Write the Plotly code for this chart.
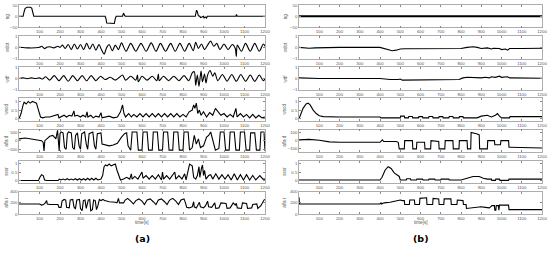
import plotly.graph_objects as go

# ---------------- DATA ----------------
ylabels = ["ng", "wdot", "wdf", "wsod", "alfa d", "ssor", "alfa r"]
xtick_vals = [100, 200, 300, 400, 500, 600, 700, 800, 900, 1000, 1100, 1200]

# panel (a)
ng_a_t = [0,20,25,30,40,55,62,68,72,420,424,428,465,470,474,505,510,514,518,860,863,866,870,875,882,885,890,900,903,908,915,918,1058,1061,1064,1200]
ng_a_v = [0,0,20,35,40,40,36,20,0,0,-10,-30,-32,-10,0,0,14,6,0,0,15,27,20,2,0,-6,-4,0,-9,-3,-8,0,0,8,0,0]

wdot_a_t = [0,20,50,80,100,110,118,125,135,150,170,190,200,212,225,240,255,270,285,300,315,330,345,360,375,390,402,415,428,440,455,470,485,500,522,545,570,595,620,645,668,690,715,740,762,785,808,830,850,862,875,890,905,920,935,950,965,980,1000,1020,1040,1055,1060,1065,1085,1105,1128,1150,1172,1192,1200]
wdot_a_v = [0,-0.02,-0.05,-0.04,0.0,0.1,0.0,-0.12,0.0,0.05,-0.05,0.1,0.0,0.2,-0.1,0.25,-0.2,0.3,-0.15,0.25,-0.2,0.35,-0.15,0.3,-0.25,0.25,-0.2,-0.6,0.0,0.25,-0.3,0.2,-0.2,0.4,-0.35,0.35,-0.35,0.35,-0.35,0.4,-0.35,0.35,-0.35,0.35,-0.35,0.35,-0.35,0.35,-0.3,0.45,-0.1,0.3,-0.2,0.2,0.55,0.1,0.35,-0.2,0.3,-0.2,0.25,-0.1,-0.8,0.2,-0.35,0.35,-0.35,0.35,-0.35,0.3,0.1]

wdf_a_t = [0,20,40,60,80,100,115,130,150,172,195,218,240,262,285,308,330,352,375,398,420,445,470,490,505,520,545,570,578,582,600,625,650,672,680,684,705,730,755,780,805,828,845,855,862,870,878,888,895,905,912,920,932,945,955,970,992,1015,1038,1060,1082,1105,1128,1150,1172,1192,1200]
wdf_a_v = [0,0.05,-0.03,0.05,0.0,0.05,-0.05,0.15,-0.15,0.25,-0.2,0.25,-0.25,0.25,-0.2,0.25,-0.2,0.25,-0.2,0.2,-0.1,0.1,-0.15,0.1,0.3,-0.15,0.2,-0.15,0.3,-0.3,0.2,-0.15,0.2,-0.2,0.4,-0.2,0.2,-0.2,0.2,-0.2,0.25,-0.2,0.5,0.6,-0.6,0.3,-0.7,0.65,-0.3,0.4,-0.4,0.3,0.7,0.2,0.5,-0.2,0.35,-0.25,0.35,-0.25,0.35,-0.25,0.3,-0.25,0.3,-0.2,0.0]

wsod_a_t = [0,10,20,25,35,45,55,65,75,85,95,105,115,130,150,165,180,190,195,205,220,232,245,258,268,272,285,300,312,325,332,336,350,362,375,390,400,405,420,440,460,480,495,505,512,520,535,548,560,575,590,605,620,635,650,665,680,695,710,725,740,755,770,785,800,815,830,845,852,858,865,872,880,888,900,915,930,945,958,970,985,1000,1015,1030,1045,1058,1064,1080,1095,1110,1125,1140,1155,1170,1185,1200]
wsod_a_v = [0.0,0.3,0.8,0.95,0.85,1.0,0.9,1.0,0.95,0.9,0.5,0.1,0.05,0.1,0.1,0.15,0.2,0.25,0.05,0.1,0.2,0.1,0.2,0.15,0.45,0.15,0.2,0.1,0.2,0.1,0.4,0.1,0.2,0.05,0.15,0.1,0.35,0.05,0.1,0.15,0.05,0.1,0.4,0.8,0.3,0.1,0.3,0.1,0.25,0.1,0.3,0.1,0.3,0.1,0.3,0.1,0.3,0.1,0.3,0.1,0.3,0.1,0.3,0.1,0.25,0.1,0.4,0.5,0.8,0.6,0.9,0.3,0.5,0.2,0.4,0.1,0.35,0.2,0.6,0.4,0.2,0.3,0.1,0.25,0.1,0.6,0.1,0.3,0.1,0.25,0.05,0.25,0.05,0.2,0.05,0.1]

alfad_a_t = [0,30,60,90,110,118,122,126,135,150,165,180,188,192,196,200,205,215,222,230,236,242,255,262,270,276,285,293,300,306,320,328,335,342,360,368,375,382,400,405,420,440,460,480,500,515,525,532,545,552,575,582,600,605,625,632,650,655,675,682,700,705,725,732,750,755,775,782,800,805,825,832,845,855,865,875,885,900,915,925,935,950,958,975,982,1000,1008,1025,1030,1050,1058,1075,1080,1100,1108,1125,1130,1150,1158,1175,1180,1195,1200]
alfad_a_v = [100,150,100,50,0,-100,-600,0,100,250,300,100,600,-100,-600,400,500,450,-400,-500,400,500,450,-400,-500,300,450,-300,-500,400,500,-200,-500,400,500,-300,-500,400,450,-200,-250,-300,-250,-150,200,400,450,-300,-550,500,500,-550,-550,500,500,-550,-550,500,500,-550,-550,500,500,-550,-550,500,500,-550,-550,500,500,-550,-400,300,-200,100,-400,-300,200,300,500,-200,-550,-450,500,500,-550,-550,500,500,-550,-550,500,500,-550,-550,450,450,-550,-550,500,500,-600]

ssor_a_t = [0,95,102,110,118,125,135,190,198,205,215,225,235,245,255,265,275,285,295,305,315,325,335,345,355,365,375,385,400,408,415,422,430,440,450,460,470,478,488,495,510,525,540,548,552,565,580,590,600,605,620,635,650,665,680,695,700,705,720,735,750,760,765,780,795,808,815,825,832,845,852,862,870,878,882,890,895,900,905,912,925,935,945,960,975,990,1005,1020,1035,1050,1065,1080,1095,1110,1125,1140,1155,1175,1190,1200]
ssor_a_v = [0.02,0.02,0.2,0.35,0.3,0.05,0.02,0.02,0.1,0.05,0.1,0.05,0.12,0.05,0.1,0.05,0.12,0.05,0.12,0.05,0.12,0.05,0.15,0.05,0.15,0.05,0.15,0.05,0.1,0.3,0.8,0.9,0.85,0.95,0.85,0.9,0.95,0.6,0.2,0.05,0.1,0.2,0.1,0.4,0.1,0.25,0.1,0.3,0.5,0.15,0.3,0.1,0.3,0.1,0.35,0.05,0.5,0.1,0.3,0.1,0.35,0.5,0.1,0.3,0.1,0.4,0.05,0.5,0.95,0.85,0.2,0.1,0.3,0.8,0.2,0.7,0.9,0.3,0.6,0.1,0.3,0.35,0.1,0.4,0.1,0.35,0.1,0.35,0.05,0.4,0.05,0.35,0.05,0.35,0.05,0.3,0.05,0.3,0.1,0.1]

alfar_a_t = [0,100,110,120,128,135,138,150,190,195,205,210,220,228,232,245,250,262,268,275,282,295,300,308,314,322,328,338,345,350,358,364,372,378,385,392,400,410,418,440,470,478,485,490,500,510,518,530,545,558,570,585,600,612,625,640,655,668,680,695,710,722,735,750,765,778,790,805,812,818,830,845,852,855,865,875,880,885,900,910,920,925,940,955,960,975,985,1010,1015,1030,1045,1055,1060,1065,1085,1090,1110,1115,1135,1140,1160,1165,1180,1195,1200]
alfar_a_v = [180,180,160,170,200,240,180,170,170,120,120,230,260,250,120,110,250,260,130,90,250,260,100,60,240,250,100,250,260,60,80,250,240,80,150,260,240,260,240,220,210,200,280,200,200,200,250,280,230,180,240,270,230,170,250,270,220,170,250,270,220,170,250,280,230,170,250,270,200,120,110,130,220,130,110,200,210,130,110,150,230,130,120,200,100,110,200,190,100,110,200,160,190,110,100,200,190,100,110,170,180,100,150,250,260]

# panel (b)
ng_b_t = [0, 1200]
ng_b_v = [0, 0]

wdot_b_t = [0,20,50,80,120,200,400,420,440,460,480,500,520,600,700,800,830,860,880,900,930,950,960,990,1000,1020,1030,1040,1100,1200]
wdot_b_v = [0,-0.03,-0.08,-0.05,-0.02,0.0,0.0,-0.1,-0.25,-0.3,-0.25,-0.15,-0.13,-0.12,-0.12,-0.1,0.0,0.05,0.0,-0.1,-0.05,-0.15,-0.08,-0.1,-0.2,-0.15,-0.25,-0.1,-0.1,-0.08]

wdf_b_t = [0,50,100,400,420,450,490,500,510,600,700,790,810,830,900,920,940,950,970,990,1000,1030,1040,1200]
wdf_b_v = [0.05,0.02,0.0,0.0,-0.05,-0.1,-0.1,-0.05,-0.15,-0.15,-0.15,-0.1,0.05,0.1,0.05,0.1,0.05,0.15,0.1,0.2,0.1,0.15,0.05,0.02]

wsod_b_t = [0,10,20,35,45,55,70,85,100,120,200,400,405,500,502,520,522,540,542,560,562,590,592,610,612,640,642,660,662,690,692,710,712,740,742,760,762,790,792,810,812,880,900,930,950,970,980,990,1000,1040,1042,1200]
wsod_b_v = [0.0,0.3,0.6,0.85,0.9,0.8,0.5,0.3,0.17,0.12,0.1,0.1,0.05,0.05,0.15,0.15,0.05,0.05,0.13,0.13,0.05,0.05,0.12,0.12,0.05,0.05,0.13,0.13,0.05,0.05,0.12,0.12,0.05,0.05,0.13,0.13,0.05,0.05,0.12,0.12,0.05,0.05,0.15,0.2,0.1,0.2,0.3,0.15,0.05,0.05,0.12,0.12]

alfad_b_t = [0,50,100,150,200,400,408,412,418,480,490,495,520,522,560,562,580,582,620,622,650,652,690,692,720,722,760,762,790,792,830,832,848,850,880,890,892,930,932,965,967,995,997,1035,1037,1100,1200]
alfad_b_v = [10,15,5,-15,-20,-20,0,10,-10,-10,-20,-100,-100,0,0,-100,-100,-20,-20,-100,-100,0,-10,-100,-100,0,0,-100,-100,0,0,-100,-100,100,80,70,-100,-100,0,0,-50,-50,0,0,-80,-85,-90]

ssor_b_t = [0,400,410,425,440,455,470,485,495,500,530,532,550,552,580,582,610,612,640,642,670,672,700,702,740,742,800,830,860,890,910,930,950,952,970,972,990,992,1035,1037,1200]
ssor_b_v = [0.05,0.05,0.2,0.6,0.8,0.7,0.45,0.35,0.25,0.05,0.05,0.12,0.12,0.05,0.05,0.1,0.1,0.05,0.05,0.1,0.1,0.05,0.05,0.1,0.1,0.05,0.05,0.15,0.25,0.25,0.15,0.1,0.1,0.03,0.03,0.1,0.1,0.03,0.03,0.1,0.1]

alfar_b_t = [0,2,400,405,408,420,450,480,500,510,520,522,545,547,570,572,595,597,630,632,660,662,690,692,715,717,750,752,780,782,810,812,825,827,870,900,920,940,950,952,965,967,972,974,985,987,990,1035,1037,1200]
alfar_b_v = [300,180,180,200,180,200,210,230,250,240,240,170,170,250,250,170,170,280,290,170,170,280,270,170,170,270,270,170,170,250,240,170,170,100,110,130,120,110,140,150,150,70,70,150,150,70,160,160,80,80]

# y ranges and ticks per row
yranges_a = [[-50, 50], [-1, 1], [-1, 1], [-0.12, 1.18], [-650, 650], [-0.12, 1.15], [0, 400]]
yranges_b = [[-50, 50], [-1, 1], [-1, 1], [-0.12, 1.18], [-137, 137], [-0.12, 1.15], [0, 400]]
yticks_a = [[-50, 0, 50], [-1, 0, 1], [-1, 0, 1], [0, 0.5, 1], [-500, 0, 500], [0, 0.5, 1], [0, 200, 400]]
yticks_b = [[-50, 0, 50], [-1, 0, 1], [-1, 0, 1], [0, 0.5, 1], [-100, 0, 100], [0, 0.5, 1], [0, 200, 400]]

series_a = [(ng_a_t, ng_a_v), (wdot_a_t, wdot_a_v), (wdf_a_t, wdf_a_v), (wsod_a_t, wsod_a_v),
            (alfad_a_t, alfad_a_v), (ssor_a_t, ssor_a_v), (alfar_a_t, alfar_a_v)]
series_b = [(ng_b_t, ng_b_v), (wdot_b_t, wdot_b_v), (wdf_b_t, wdf_b_v), (wsod_b_t, wsod_b_v),
            (alfad_b_t, alfad_b_v), (ssor_b_t, ssor_b_v), (alfar_b_t, alfar_b_v)]
smooth_rows = {1, 2}   # oscillating signals drawn as smooth curves

# ---------------- FIGURE ----------------
W, H = 550, 253
fig = go.Figure()
layout = dict(width=W, height=H, margin=dict(l=0, r=0, t=0, b=0, autoexpand=False),
              paper_bgcolor="white", plot_bgcolor="white", showlegend=False,
              font=dict(family="Liberation Sans", size=4.5, color="#555555"))
annotations = []

panels = [((19, 265), series_a, yranges_a, yticks_a, 7, "(a)"),
          ((299, 542), series_b, yranges_b, yticks_b, 285, "(b)")]

TICKFONT = dict(family="Liberation Sans", size=4.3, color="#555555")
k = 0
for p, (xpx, series, yr, yt, ylab_x, plabel) in enumerate(panels):
    for i in range(7):
        k += 1
        top = 5 + 31.1 * i
        bot = top + 22.5
        xs = "" if k == 1 else str(k)
        t, v = series[i]
        lw = 1.8 if (p == 1 and i == 0) else 1.1
        line = dict(color="black", width=lw)
        if p == 0 and i in smooth_rows:
            line.update(shape="spline", smoothing=0.8)
        fig.add_trace(go.Scatter(x=t, y=v, mode="lines", line=line,
                                 xaxis="x" + xs, yaxis="y" + xs, hoverinfo="skip"))
        layout["xaxis" + xs] = dict(domain=[xpx[0] / W, xpx[1] / W], anchor="y" + xs,
                                    range=[0, 1200], tickvals=xtick_vals, ticks="inside",
                                    ticklen=2, tickcolor="#888888", showline=True,
                                    linecolor="#999999", linewidth=0.8, mirror="ticks",
                                    showgrid=False, zeroline=False, tickfont=TICKFONT,
                                    automargin=False)
        layout["yaxis" + xs] = dict(domain=[1 - bot / H, 1 - top / H], anchor="x" + xs,
                                    range=yr[i], tickvals=yt[i], ticks="inside",
                                    ticklen=2, tickcolor="#888888", showline=True,
                                    linecolor="#999999", linewidth=0.8, mirror="ticks",
                                    showgrid=False, zeroline=False, tickfont=TICKFONT,
                                    automargin=False)
        annotations.append(dict(text=ylabels[i], x=ylab_x / W, y=1 - (top + 11.25) / H,
                                xref="paper", yref="paper", xanchor="center", yanchor="middle",
                                showarrow=False, textangle=-90,
                                font=dict(family="Liberation Sans", size=4.5, color="#555555")))
    cx = (xpx[0] + xpx[1]) / 2 / W
    annotations.append(dict(text="time[s]", x=cx, y=1 - 222.5 / H, xref="paper", yref="paper",
                            xanchor="center", yanchor="middle", showarrow=False,
                            font=dict(family="Liberation Sans", size=4.6, color="#555555")))
    annotations.append(dict(text="<b>" + plabel + "</b>", x=cx, y=1 - 238 / H, xref="paper", yref="paper",
                            xanchor="center", yanchor="middle", showarrow=False,
                            font=dict(family="DejaVu Sans", size=9.5, color="black")))

layout["annotations"] = annotations
fig.update_layout(**layout)
fig.write_html("out.html", config={"displayModeBar": False, "staticPlot": True},
               post_script="document.body.style.margin='0';document.body.style.overflow='hidden';")
